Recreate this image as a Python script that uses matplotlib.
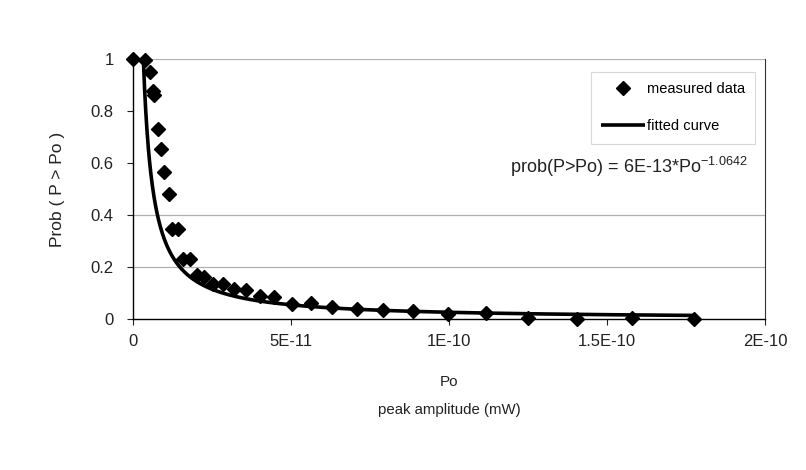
import numpy as np
import matplotlib.pyplot as plt

plt.rcParams['font.family'] = ['Liberation Sans', 'DejaVu Sans']

# measured exceedance probability vs peak amplitude (mW)
po_measured = [0.0, 3.8e-12, 5.4e-12, 6.2e-12, 6.6e-12, 8.0e-12, 8.9e-12, 9.9e-12,
               11.3e-12, 12.4e-12, 14.3e-12, 15.9e-12, 18.0e-12, 20.2e-12, 22.5e-12,
               25.4e-12, 28.4e-12, 32.0e-12, 35.7e-12, 40.2e-12, 44.7e-12, 50.2e-12,
               56.2e-12, 63.0e-12, 70.8e-12, 79.2e-12, 88.7e-12, 99.8e-12, 111.7e-12,
               125.1e-12, 140.6e-12, 157.8e-12, 177.6e-12]
prob_measured = [1.0, 0.996, 0.949, 0.878, 0.862, 0.733, 0.653, 0.567,
                 0.480, 0.346, 0.346, 0.233, 0.231, 0.168, 0.163,
                 0.137, 0.135, 0.115, 0.114, 0.088, 0.086, 0.060,
                 0.063, 0.047, 0.038, 0.035, 0.031, 0.019, 0.022,
                 0.003, 0.0, 0.003, 0.0]

# power-law trendline: prob(P>Po) = a * Po^b
fit_a = 6e-13
fit_b = -1.0642

x_ticks = [0, 5e-11, 1e-10, 1.5e-10, 2e-10]
x_tick_labels = ['0', '5E-11', '1E-10', '1.5E-10', '2E-10']
y_ticks = [0, 0.2, 0.4, 0.6, 0.8, 1.0]
y_tick_labels = ['0', '0.2', '0.4', '0.6', '0.8', '1']

fig = plt.figure(figsize=(8.06, 4.70), dpi=100)
ax = fig.add_axes([0.165, 0.321, 0.784, 0.553])

# fitted curve from where it reaches 1 up to the last measured point
x_start = fit_a ** (-1.0 / fit_b)
x_fit = np.geomspace(x_start, po_measured[-1], 300)
y_fit = fit_a * x_fit ** fit_b

for g in [0.2, 0.4, 1.0]:
    ax.axhline(g, color='#b0b0b0', lw=0.9, zorder=0)

ax.plot(x_fit, y_fit, color='black', lw=2.6, solid_capstyle='butt',
        label='fitted curve', zorder=2)
ax.plot(po_measured, prob_measured, linestyle='none', marker='D', ms=7,
        color='black', label='measured data', clip_on=False, zorder=3)

ax.set_xlim(0, 2e-10)
ax.set_ylim(0, 1)
ax.set_xticks(x_ticks)
ax.set_xticklabels(x_tick_labels)
ax.set_yticks(y_ticks)
ax.set_yticklabels(y_tick_labels)
ax.tick_params(direction='out', length=4, width=0.8, labelsize=12,
               colors='#222222')
ax.tick_params(axis='x', pad=7)
ax.tick_params(axis='y', pad=10)

ax.spines['top'].set_visible(False)
ax.spines['right'].set_color('#333333')
ax.spines['left'].set_linewidth(1.0)
ax.spines['bottom'].set_linewidth(1.0)

fig.text(0.071, 0.598, 'Prob ( P > Po )', rotation=90, ha='center',
         va='center', fontsize=12.5, color='#222222')
fig.text(0.557, 0.187, 'Po', ha='center', va='center', fontsize=11,
         color='#222222')
fig.text(0.557, 0.128, 'peak amplitude (mW)', ha='center', va='center',
         fontsize=10.8, color='#222222')

handles, labels = ax.get_legend_handles_labels()
leg = ax.legend(handles[::-1], labels[::-1], loc='upper right',
                bbox_to_anchor=(0.9367, 0.847), bbox_transform=fig.transFigure,
                fontsize=10.5, frameon=True, fancybox=False,
                edgecolor='#cfcfcf', handlelength=3.0, labelspacing=1.6,
                borderpad=0.7, handletextpad=0.1, borderaxespad=0)
leg.get_frame().set_linewidth(0.8)

ax.text(0.972, 0.585, r'prob(P>Po) = 6E-13*Po$^{\mathregular{-1.0642}}$',
        transform=ax.transAxes, ha='right', va='center', fontsize=13,
        color='#222222')

fig.savefig('out.png', dpi=100)
